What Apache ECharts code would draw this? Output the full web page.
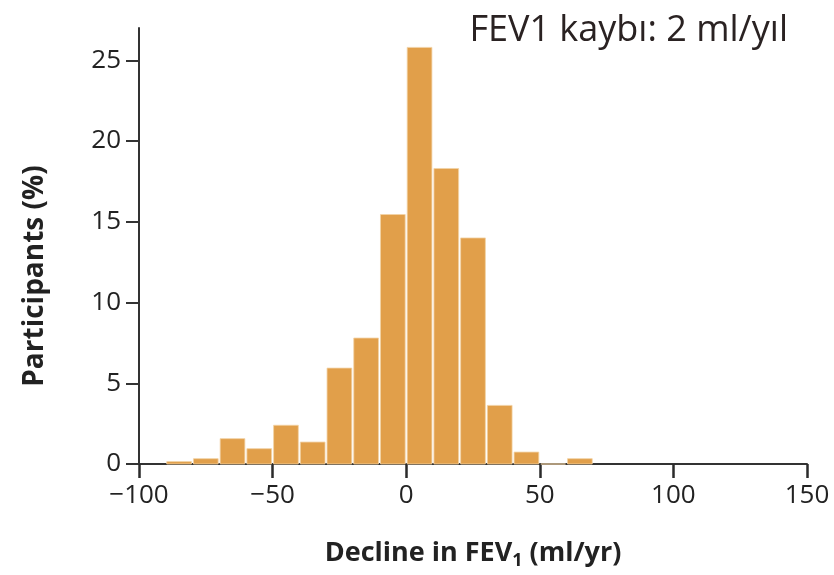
<!DOCTYPE html>
<html><head><meta charset="utf-8">
<script src="https://cdn.jsdelivr.net/npm/echarts@6/dist/echarts.min.js"></script>
<style>html,body{margin:0;padding:0;background:#fff}#c{width:834px;height:575px}</style>
</head><body><div id="c"></div>
<script>
var binStart = [-90,-80,-70,-60,-50,-40,-30,-20,-10,0,10,20,30,40,50,60];
var binWidth = 10;
var participants = [0.15,0.33,1.57,0.95,2.4,1.36,5.94,7.8,15.45,25.8,18.3,14.0,3.63,0.74,0,0.33];
var xTicks = [-100,-50,0,50,100,150];
var yTicks = [0,5,10,15,20,25];
var titleText = 'FEV1 kaybı: 2 ml/yıl';
var xName = 'Decline in FEV';
var yName = 'Participants (%)';

var data = binStart.map(function(s,i){return [s, s+binWidth, participants[i]];});
var chart = echarts.init(document.getElementById('c'));
var font = '"Open Sans", "DejaVu Sans", sans-serif';
chart.setOption({
  animation:false,
  title:{text:titleText,right:41,top:8,textStyle:{fontFamily:font,fontWeight:'normal',fontSize:36,color:'#2a2222'}},
  grid:{left:139,right:27,top:28,bottom:109,containLabel:false},
  xAxis:{type:'value',min:-100,max:150,interval:50,position:'bottom',
    axisLine:{show:true,onZero:false,lineStyle:{color:'#333',width:2}},
    axisTick:{show:true,inside:false,length:14,lineStyle:{color:'#2b2b2b',width:2.5}},
    splitLine:{show:false},
    axisLabel:{fontFamily:font,fontSize:26,color:'#222',margin:19,formatter:function(v){return String(v).replace('-','\u2212');}},
    name:'{a|'+xName+'}{s|1}{a| (ml/yr)}',nameLocation:'middle',nameGap:72,
    nameTextStyle:{rich:{a:{fontFamily:font,fontWeight:'bold',fontSize:27,color:'#222'},s:{fontFamily:font,fontWeight:'bold',fontSize:18,color:'#222',verticalAlign:'bottom',padding:[16,0,0,0]}}}
  },
  yAxis:{type:'value',min:0,max:27,
    axisLine:{show:true,onZero:false,lineStyle:{color:'#333',width:2}},
    axisTick:{show:true,length:13,customValues:yTicks,lineStyle:{color:'#333',width:2}},
    axisLabel:{fontFamily:font,fontSize:26,color:'#222',margin:18,customValues:yTicks},
    splitLine:{show:false},
    name:yName,nameLocation:'middle',nameGap:90,
    nameTextStyle:{fontFamily:font,fontWeight:'bold',fontSize:28,color:'#222',padding:[0,60,0,0]}
  },
  series:[{type:'custom',data:data,encode:{x:[0,1],y:2},
    renderItem:function(params,api){
      var p0=api.coord([api.value(0),0]);
      var p1=api.coord([api.value(1),api.value(2)]);
      return {type:'rect',shape:{x:p0[0]+1,y:p1[1],width:p1[0]-p0[0]-2,height:p0[1]-p1[1]},
        style:{fill:'#E19F4A',stroke:'#F3D3A6',lineWidth:0.8}};
    }}]
});
</script></body></html>
